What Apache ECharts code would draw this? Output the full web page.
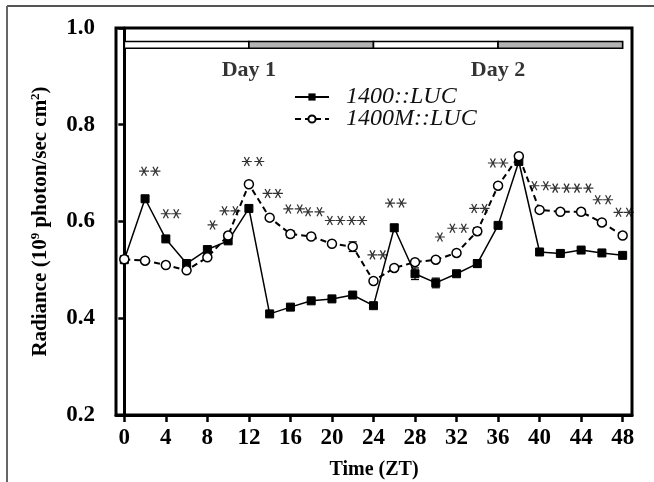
<!DOCTYPE html>
<html><head><meta charset="utf-8">
<script src="https://cdn.jsdelivr.net/npm/echarts@6/dist/echarts.min.js"></script>
<style>html,body{margin:0;padding:0;background:#fff}#c{width:654px;height:482px}</style>
</head><body><div id="c"></div>
<script>
// ---- data ----
const zt = [0,2,4,6,8,10,12,14,16,18,20,22,24,26,28,30,32,34,36,38,40,42,44,46,48];
const luc1400 = [0.521,0.647,0.564,0.513,0.542,0.560,0.627,0.409,0.423,0.436,0.440,0.448,0.426,0.587,0.492,0.473,0.492,0.513,0.592,0.724,0.537,0.534,0.541,0.535,0.530];
const luc1400Err = [0.004,0.006,0.004,0.007,0.004,0.004,0.006,0.004,0.003,0.003,0.004,0.004,0.004,0.007,0.012,0.010,0.005,0.008,0.004,0.005,0.003,0.003,0.003,0.003,0.003];
const luc1400M = [0.522,0.519,0.510,0.499,0.526,0.571,0.677,0.608,0.574,0.569,0.554,0.548,0.477,0.504,0.516,0.521,0.535,0.580,0.674,0.735,0.624,0.620,0.620,0.598,0.571];
const luc1400MErr = [0.003,0.003,0.003,0.004,0.004,0.004,0.004,0.004,0.007,0.003,0.004,0.010,0.004,0.003,0.004,0.004,0.003,0.007,0.004,0.004,0.004,0.003,0.006,0.003,0.004];
const starX = [1.9,3.0, 4.0,5.0, 8.5, 9.65,10.7, 11.8,13.0, 13.8,14.8, 15.8,16.9,17.7,18.8, 19.8,20.8,21.9,22.9, 23.9,24.9, 25.6,26.7, 30.4, 31.6,32.7, 33.7,34.7, 35.5,36.5, 39.5,40.6,41.5,42.6,43.6,44.7, 45.6,46.6, 47.6,48.6];
const starY = [0.704,0.704, 0.616,0.616, 0.593, 0.622,0.622, 0.724,0.724, 0.658,0.658, 0.626,0.626,0.620,0.620, 0.602,0.602,0.602,0.602, 0.531,0.531, 0.638,0.638, 0.568, 0.586,0.586, 0.627,0.627, 0.721,0.721, 0.674,0.674,0.669,0.669,0.669,0.669, 0.645,0.645, 0.619,0.619];
const xTicks = [0,4,8,12,16,20,24,28,32,36,40,44,48];
const yTicks = [0.2,0.4,0.6,0.8,1.0];
const phaseStart = [0,12,24,36];
const phaseEnd = [12,24,36,48];
const phaseType = ['light','dark','light','dark'];
const phaseBarTop = 0.972, phaseBarBottom = 0.958;
const dayLabels = ['Day 1','Day 2'];
const dayLabelX = [12,36];
const dayLabelY = 0.913;
const seriesNames = ['1400::LUC','1400M::LUC'];

const serif = '"Liberation Serif","Times New Roman",serif';
const chart = echarts.init(document.getElementById('c'), null, {renderer:'canvas'});

function errItem(params, api){
  const x = api.value(0), y = api.value(1), e = api.value(2);
  const hi = api.coord([x, y+e]), lo = api.coord([x, y-e]);
  const w = 4;
  return {type:'group', children:[
    {type:'line', shape:{x1:hi[0],y1:hi[1],x2:lo[0],y2:lo[1]}, style:{stroke:'#000',lineWidth:1.2}},
    {type:'line', shape:{x1:hi[0]-w,y1:hi[1],x2:hi[0]+w,y2:hi[1]}, style:{stroke:'#000',lineWidth:1.2}},
    {type:'line', shape:{x1:lo[0]-w,y1:lo[1],x2:lo[0]+w,y2:lo[1]}, style:{stroke:'#000',lineWidth:1.2}}
  ]};
}

const starPath = 'path://M-5,0L5,0M-2.5,-4.33L2.5,4.33M-2.5,4.33L2.5,-4.33';

const option = {
  animation:false,
  backgroundColor:'#fff',
  textStyle:{fontFamily:serif},
  grid:{left:116, right:22, top:28, bottom:67, show:true, borderColor:'#000', borderWidth:3,
        containLabel:false, outerBoundsMode:'none'},
  legend:[
    {data:[seriesNames[0]], left:289, top:80, orient:'vertical', itemWidth:34, itemHeight:9,
     textStyle:{fontFamily:serif, fontStyle:'italic', fontSize:24, color:'#111', padding:[0,0,0,12]}},
    {data:[seriesNames[1]], left:289, top:102, orient:'vertical', itemWidth:34, itemHeight:9,
     textStyle:{fontFamily:serif, fontStyle:'italic', fontSize:24, color:'#111', padding:[0,0,0,12]}}
  ],
  xAxis:{type:'value', min:-0.8, max:48.9,
    name:'Time (ZT)', nameLocation:'middle', nameGap:45,
    nameTextStyle:{fontFamily:serif, fontWeight:'bold', fontSize:20, color:'#000'},
    axisLine:{show:true, lineStyle:{color:'#000', width:3}},
    axisTick:{show:true, customValues:xTicks, length:7, lineStyle:{color:'#000', width:2.5}},
    axisLabel:{customValues:xTicks, margin:12, fontFamily:serif, fontWeight:'bold', fontSize:23, color:'#000'},
    splitLine:{show:false}},
  yAxis:{type:'value', min:0.2, max:1.0, interval:0.2,
    name:'{a|Radiance (10}{s|9}{a| photon/sec cm}{s|2}{a|)}', nameLocation:'middle', nameGap:64,
    nameTextStyle:{rich:{
      a:{fontFamily:serif, fontWeight:'bold', fontSize:21, color:'#000'},
      s:{fontFamily:serif, fontWeight:'bold', fontSize:13, color:'#000', verticalAlign:'top', padding:[0,0,10,0]}}},
    axisLine:{show:true, lineStyle:{color:'#000', width:3}},
    axisTick:{show:true, length:6, lineStyle:{color:'#000', width:2.5}},
    axisLabel:{margin:21, fontFamily:serif, fontWeight:'bold', fontSize:23, color:'#000',
      formatter:v=>v.toFixed(1)},
    splitLine:{show:false}},
  series:[
    {type:'custom', name:'phase', silent:true, z:1,
     data: phaseStart.map((s,i)=>[s, phaseEnd[i], phaseType[i]==='dark'?1:0]),
     renderItem:(params, api)=>{
       const p0 = api.coord([api.value(0), phaseBarTop]);
       const p1 = api.coord([api.value(1), phaseBarBottom]);
       return {type:'rect', shape:{x:p0[0], y:p0[1], width:p1[0]-p0[0], height:p1[1]-p0[1]},
         style:{fill: api.value(2)===1 ? '#b3b3b3' : '#ffffff', stroke:'#000', lineWidth:1.6}};
     }},
    {type:'scatter', name:'days', silent:true, symbolSize:0,
     data: dayLabelX.map((x,i)=>({value:[x, dayLabelY], label:{formatter:dayLabels[i]}})),
     label:{show:true, position:'inside', fontFamily:serif, fontWeight:'bold', fontSize:22, color:'#000'}},
    {type:'line', name:seriesNames[0], data: zt.map((x,i)=>[x, luc1400[i]]), z:4,
     symbol:'rect', symbolSize:8, showSymbol:true,
     itemStyle:{color:'#000', borderColor:'#000'},
     lineStyle:{color:'#000', width:1.5, type:'solid'}},
    {type:'line', name:seriesNames[1], data: zt.map((x,i)=>[x, luc1400M[i]]), z:5,
     symbol:'circle', symbolSize:9, showSymbol:true,
     itemStyle:{color:'#fff', borderColor:'#000', borderWidth:1.5},
     lineStyle:{color:'#000', width:2, type:[6,4]}},
    {type:'custom', name:'err1', silent:true, z:3, renderItem:errItem,
     data: zt.map((x,i)=>[x, luc1400[i], luc1400Err[i]])},
    {type:'custom', name:'err2', silent:true, z:3, renderItem:errItem,
     data: zt.map((x,i)=>[x, luc1400M[i], luc1400MErr[i]])},
    {type:'scatter', name:'sig', silent:true, symbol:starPath, symbolSize:[10,9],
     data: starX.map((x,i)=>[x, starY[i]]),
     itemStyle:{color:'rgba(0,0,0,0)', borderColor:'#000', borderWidth:1.2}}
  ],
  graphic:[
    {type:'line', shape:{x1:7, y1:6, x2:654, y2:6}, style:{stroke:'#555', lineWidth:2}},
    {type:'line', shape:{x1:7, y1:6, x2:7, y2:482}, style:{stroke:'#666', lineWidth:2}}
  ]
};
chart.setOption(option);
</script></body></html>
